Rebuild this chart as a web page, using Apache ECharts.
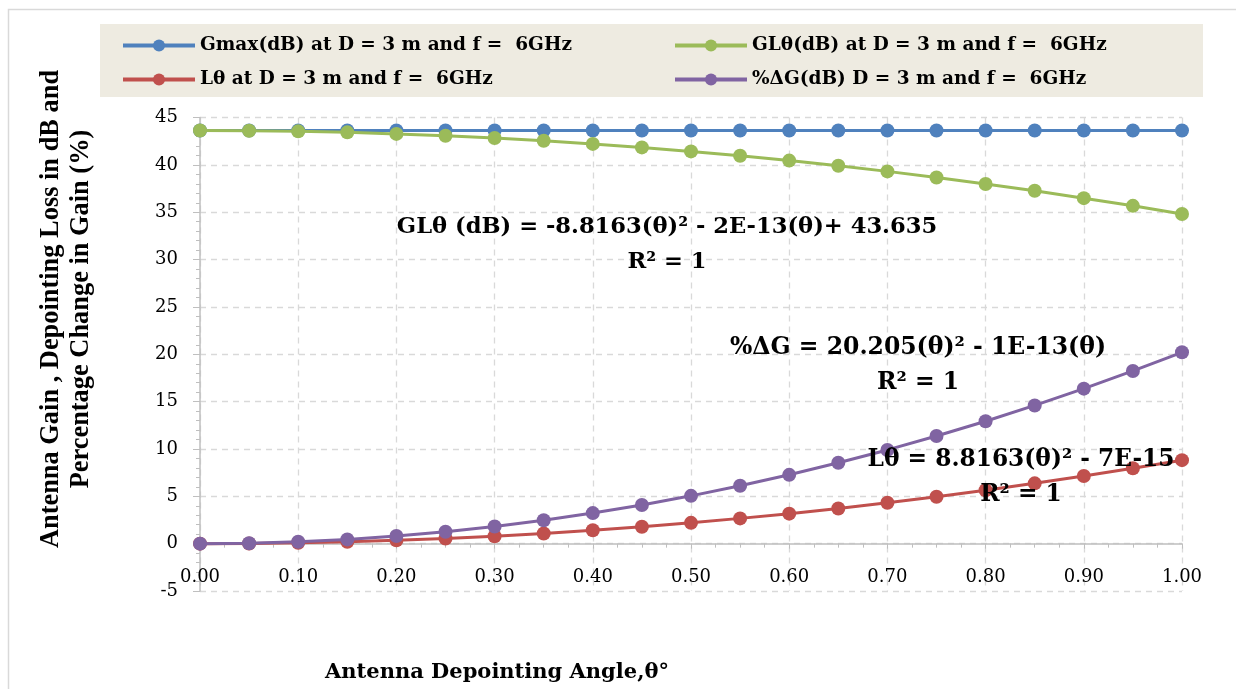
<!DOCTYPE html>
<html>
<head>
<meta charset="utf-8">
<script src="https://cdn.jsdelivr.net/npm/echarts@6/dist/echarts.min.js"></script>
<style>html,body{margin:0;padding:0;background:#fff}#c{width:1236px;height:689px}</style>
</head>
<body>
<div id="c"></div>
<script>
const theta = [0.00,0.05,0.10,0.15,0.20,0.25,0.30,0.35,0.40,0.45,0.50,0.55,0.60,0.65,0.70,0.75,0.80,0.85,0.90,0.95,1.00];
const gmax = [43.64,43.64,43.64,43.64,43.64,43.64,43.64,43.64,43.64,43.64,43.64,43.64,43.64,43.64,43.64,43.64,43.64,43.64,43.64,43.64,43.64];
const glTheta = [43.64,43.61,43.55,43.44,43.28,43.08,42.84,42.56,42.22,41.85,41.43,40.97,40.46,39.91,39.32,38.68,37.99,37.27,36.49,35.68,34.82];
const lTheta = [0.00,0.02,0.09,0.20,0.35,0.55,0.79,1.08,1.41,1.79,2.20,2.67,3.17,3.72,4.32,4.96,5.64,6.37,7.14,7.96,8.82];
const pctDeltaG = [0.00,0.05,0.20,0.45,0.81,1.26,1.82,2.48,3.23,4.09,5.05,6.11,7.27,8.54,9.90,11.37,12.93,14.60,16.37,18.24,20.21];
const seriesNames = ['Gmax(dB) at D = 3 m and f =  6GHz','GLθ(dB) at D = 3 m and f =  6GHz','Lθ at D = 3 m and f =  6GHz','%ΔG(dB) D = 3 m and f =  6GHz'];
const colors = ['#4F81BD','#9BBB59','#C0504D','#8064A2'];
const xTitle = 'Antenna Depointing Angle,θ°';
const yTitle = 'Antenna Gain , Depointing Loss in dB and\nPercentage Change in Gain (%)';
const eqGL = 'GLθ (dB) = -8.8163(θ)² - 2E-13(θ)+ 43.635\nR² = 1';
const eqDG = '%ΔG = 20.205(θ)² - 1E-13(θ)\nR² = 1';
const eqL = 'Lθ = 8.8163(θ)² - 7E-15\nR² = 1';

const SERIF = '"DejaVu Serif", serif';
const chart = echarts.init(document.getElementById('c'));
const mk = (arr) => theta.map((t, i) => [t, arr[i]]);
const allData = [gmax, glTheta, lTheta, pctDeltaG];
const eqStyle = (size) => ({font: 'bold ' + size + 'px ' + SERIF, fill: '#000', textAlign: 'center', lineHeight: 35});
const legendText = {fontFamily: SERIF, fontWeight: 'bold', fontSize: 18.5, color: '#000'};
chart.setOption({
  animation: false,
  color: colors,
  grid: {left: 200, right: 54, top: 117.6, bottom: 98},
  legend: [
    {left: 116, top: 31, orient: 'vertical', itemGap: 15, itemWidth: 72, itemHeight: 15,
     lineStyle: {width: 4}, data: [seriesNames[0], seriesNames[2]], textStyle: legendText},
    {left: 668, top: 31, orient: 'vertical', itemGap: 15, itemWidth: 72, itemHeight: 15,
     lineStyle: {width: 4}, data: [seriesNames[1], seriesNames[3]], textStyle: legendText}
  ],
  xAxis: {
    type: 'value', min: 0, max: 1, interval: 0.1,
    axisLine: {onZero: true, lineStyle: {color: '#BFBFBF', width: 1.5}},
    axisTick: {show: true, length: 5, lineStyle: {color: '#BFBFBF'}},
    minorTick: {show: true, splitNumber: 4, length: 4, lineStyle: {color: '#BFBFBF'}},
    axisLabel: {margin: -23, color: '#000', fontFamily: SERIF, fontSize: 18, formatter: v => v.toFixed(2)},
    splitLine: {show: true, lineStyle: {type: [6, 5], color: '#D9D9D9', width: 1.3}}
  },
  yAxis: {
    type: 'value', min: -5, max: 45, interval: 5,
    axisLine: {show: true, lineStyle: {color: '#BFBFBF', width: 1.5}},
    axisTick: {show: true, length: 7, lineStyle: {color: '#BFBFBF'}},
    minorTick: {show: true, splitNumber: 5, length: 4, lineStyle: {color: '#BFBFBF'}},
    axisLabel: {margin: 22, color: '#000', fontFamily: SERIF, fontSize: 18},
    splitLine: {show: true, lineStyle: {type: [6, 5], color: '#D9D9D9', width: 1.3}}
  },
  series: seriesNames.map((n, i) => ({
    name: n, type: 'line', data: mk(allData[i]), symbol: 'circle', symbolSize: 14,
    lineStyle: {width: 3, color: colors[i]}, itemStyle: {color: colors[i]}, z: 2 + i
  })),
  graphic: [
    {type: 'rect', z: -10, shape: {x: 8.5, y: 9.5, width: 1240, height: 700}, style: {fill: '#fff', stroke: '#D9D9D9', lineWidth: 1.5}},
    {type: 'rect', z: -5, shape: {x: 100, y: 24, width: 1103, height: 73}, style: {fill: '#EEEBE1'}},
    {type: 'text', x: 66, y: 309, rotation: Math.PI / 2, z: 10,
     style: {text: yTitle, font: 'bold 26.4px "Liberation Serif", serif', fill: '#000', textAlign: 'center', textVerticalAlign: 'middle', lineHeight: 30}},
    {type: 'text', x: 497, y: 662, z: 10,
     style: {text: xTitle, font: 'bold 21px ' + SERIF, fill: '#000', textAlign: 'center'}},
    {type: 'text', x: 667, y: 209.5, z: 20, style: Object.assign({text: eqGL}, eqStyle(22.6))},
    {type: 'text', x: 918, y: 330.5, z: 20, style: Object.assign({text: eqDG}, eqStyle(23.5))},
    {type: 'text', x: 1021, y: 442.5, z: 20, style: Object.assign({text: eqL}, eqStyle(23.3))}
  ]
});
</script>
</body>
</html>
